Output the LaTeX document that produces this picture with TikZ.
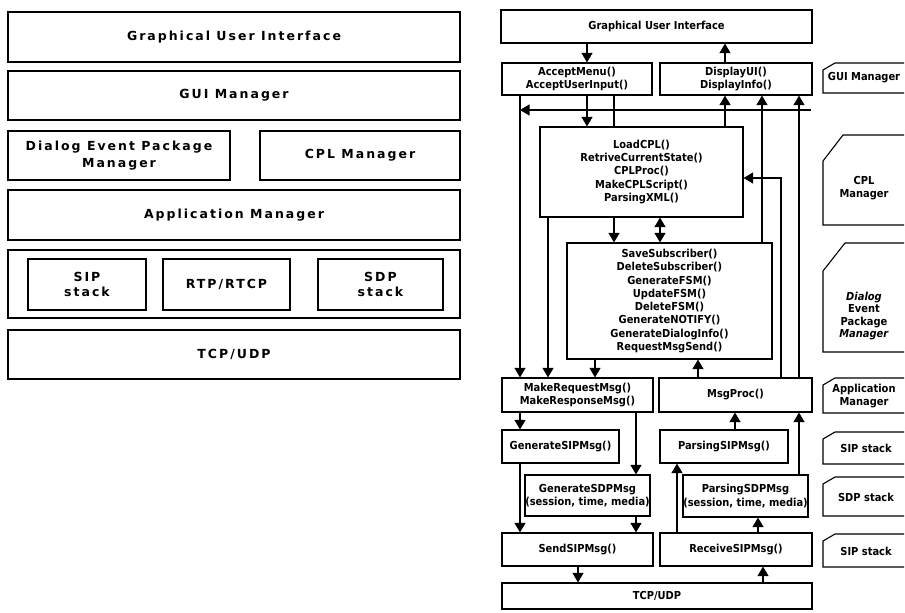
\documentclass[tikz,border=0pt]{standalone}
\usepackage{fontspec}
\setmainfont{DejaVu Sans}
\newfontfamily\spaced{DejaVu Sans}[LetterSpace=16]
\newfontfamily\narrowsans{DejaVu Sans}[FakeStretch=0.9]
\usetikzlibrary{arrows.meta}

\newcommand\layercard[4]{% top, bottom, corner cut x, corner cut y
  \draw[card] (904,#1) -- (823+#3,#1) -- (823,#1+#4) -- (823,#2) -- (904,#2);}

\begin{document}
\begin{tikzpicture}[x=1pt,y=-1pt,
  lbox/.style={draw, line width=1.7pt, inner sep=0pt, align=center,
    font=\spaced\bfseries\fontsize{12.5}{16}\selectfont},
  rbox/.style={draw, line width=1.2pt, inner sep=0pt, align=center,
    font=\narrowsans\bfseries\fontsize{11}{13.3}\selectfont},
  tip/.tip={Triangle[length=9.5pt,width=11pt]},
  arr/.style={line width=1.1pt, -tip},
  dbl/.style={line width=1.1pt, tip-tip},
  wire/.style={line width=1.1pt},
  card/.style={line width=1.1pt},
  cardtext/.style={inner sep=0pt, align=center,
    font=\narrowsans\bfseries\fontsize{11}{12.5}\selectfont},
]
\fill[white] (0,0) rectangle (905,613);
\useasboundingbox (0,0) rectangle (905,613);

% ---------- layered architecture ----------
\node[lbox, minimum width=452pt, minimum height=50pt] (lgui) at (234,37) {Graphical User Interface};
\node[lbox, minimum width=452pt, minimum height=49pt] (lguim) at (234,95.5) {GUI Manager};
\node[lbox, minimum width=222pt, minimum height=49pt, font=\spaced\bfseries\fontsize{12.5}{17}\selectfont] (ldlg) at (119,155.5) {Dialog Event Package\\Manager};
\node[lbox, minimum width=200pt, minimum height=49pt] (lcpl) at (360,155.5) {CPL Manager};
\node[lbox, minimum width=452pt, minimum height=50pt] (lapp) at (234,215) {Application Manager};
\node[lbox, minimum width=452pt, minimum height=68pt] (lstk) at (234,284) {};
\node[lbox, minimum width=118pt, minimum height=51pt, font=\spaced\bfseries\fontsize{12.5}{15}\selectfont] (lsip) at (87,284.5) {SIP\\stack};
\node[lbox, minimum width=127pt, minimum height=51pt] (lrtp) at (226.5,284.5) {RTP/RTCP};
\node[lbox, minimum width=125pt, minimum height=51pt, font=\spaced\bfseries\fontsize{12.5}{15}\selectfont] (lsdp) at (380.5,284.5) {SDP\\stack};
\node[lbox, minimum width=452pt, minimum height=49pt] (ltcp) at (234,354.5) {TCP/UDP};

% ---------- function blocks ----------
\node[rbox, minimum width=311pt, minimum height=33pt] (gui) at (656.5,26.5) {Graphical User Interface};
\node[rbox, minimum width=150pt, minimum height=32pt] (accept) at (577,79) {AcceptMenu()\\AcceptUserInput()};
\node[rbox, minimum width=152pt, minimum height=32pt] (disp) at (736,79) {DisplayUI()\\DisplayInfo()};
\node[rbox, minimum width=203pt, minimum height=90pt] (cpl) at (641.5,172)
  {LoadCPL()\\RetriveCurrentState()\\CPLProc()\\MakeCPLScript()\\ParsingXML()};
\node[rbox, minimum width=205pt, minimum height=116pt] (dlg) at (669.5,301)
  {SaveSubscriber()\\DeleteSubscriber()\\GenerateFSM()\\UpdateFSM()\\DeleteFSM()\\GenerateNOTIFY()\\GenerateDialogInfo()\\RequestMsgSend()};
\node[rbox, minimum width=151pt, minimum height=34pt] (mkreq) at (577.5,395) {MakeRequestMsg()\\MakeResponseMsg()};
\node[rbox, minimum width=153pt, minimum height=34pt] (msgp) at (735.5,395) {MsgProc()};
\node[rbox, minimum width=117pt, minimum height=33pt] (gensip) at (560.5,446.5) {GenerateSIPMsg()};
\node[rbox, minimum width=128pt, minimum height=33pt] (parsip) at (724,446.5) {ParsingSIPMsg()};
\node[rbox, minimum width=125pt, minimum height=41pt] (gensdp) at (587.5,495.5) {GenerateSDPMsg\\(session, time, media)};
\node[rbox, minimum width=125pt, minimum height=42pt] (parsdp) at (745.5,496) {ParsingSDPMsg\\(session, time, media)};
\node[rbox, minimum width=151pt, minimum height=33pt] (send) at (577.5,549.5) {SendSIPMsg()};
\node[rbox, minimum width=152pt, minimum height=33pt] (recv) at (736,549.5) {ReceiveSIPMsg()};
\node[rbox, minimum width=310pt, minimum height=26pt] (tcp) at (657,596) {TCP/UDP};

% connector columns and rows
\foreach \c in {520,548,578,587,595,614,636,660,677,698,725,735,758,762,763,781,799}
  \coordinate (c\c) at (\c,0);
\coordinate (jr) at (811,110);
\coordinate (r178) at (0,178);

\draw[arr] (gui.south -| c587) -- (accept.north -| c587);
\draw[arr] (disp.north -| c725) -- (gui.south -| c725);
\draw[arr] (accept.south -| c587) -- (cpl.north -| c587);
\draw[wire] (accept.south -| c614) -- (cpl.north -| c614);
\draw[arr] (cpl.north -| c725) -- (disp.south -| c725);
\draw[arr] (dlg.north -| c762) -- (disp.south -| c762);
\draw[arr] (msgp.north -| c799) -- (disp.south -| c799);
\draw[arr] (jr) -- (jr -| c520);
\draw[arr] (accept.south -| c520) -- (mkreq.north -| c520);
\draw[arr] (cpl.south -| c548) -- (mkreq.north -| c548);
\draw[arr] (cpl.south -| c614) -- (dlg.north -| c614);
\draw[dbl] (cpl.south -| c660) -- (dlg.north -| c660);
\draw[arr] (dlg.south -| c595) -- (mkreq.north -| c595);
\draw[arr] (msgp.north -| c698) -- (dlg.south -| c698);
\draw[arr] (msgp.north -| c781) |- (cpl.east |- r178);
\draw[arr] (mkreq.south -| c520) -- (gensip.north -| c520);
\draw[arr] (mkreq.south -| c636) -- (gensdp.north -| c636);
\draw[arr] (parsip.north -| c735) -- (msgp.south -| c735);
\draw[arr] (parsdp.north -| c799) -- (msgp.south -| c799);
\draw[arr] (gensip.south -| c520) -- (send.north -| c520);
\draw[arr] (gensdp.south -| c636) -- (send.north -| c636);
\draw[arr] (recv.north -| c677) -- (parsip.south -| c677);
\draw[arr] (recv.north -| c758) -- (parsdp.south -| c758);
\draw[arr] (send.south -| c578) -- (tcp.north -| c578);
\draw[arr] (tcp.north -| c763) -- (recv.south -| c763);

% ---------- layer tags ----------
\layercard{63}{93}{12}{7}
\node[cardtext] (tgui) at (864,78) {GUI Manager};
\layercard{135}{225}{20}{26}
\node[cardtext] (tcpl) at (864,188) {CPL\\Manager};
\layercard{243}{352}{22}{28}
\node[cardtext] (tdlg) at (864,316) {\textit{Dialog}\\Event\\Package\\\textit{Manager}};
\layercard{378}{413}{12}{7}
\node[cardtext] (tapp) at (864,396) {Application\\Manager};
\layercard{432}{464}{12}{7}
\node[cardtext] (tsip) at (866,448) {SIP stack};
\layercard{477}{516}{12}{7}
\node[cardtext] (tsdp) at (866,497) {SDP stack};
\layercard{534}{567}{12}{7}
\node[cardtext] (tsip2) at (866,551) {SIP stack};
\end{tikzpicture}
\end{document}
